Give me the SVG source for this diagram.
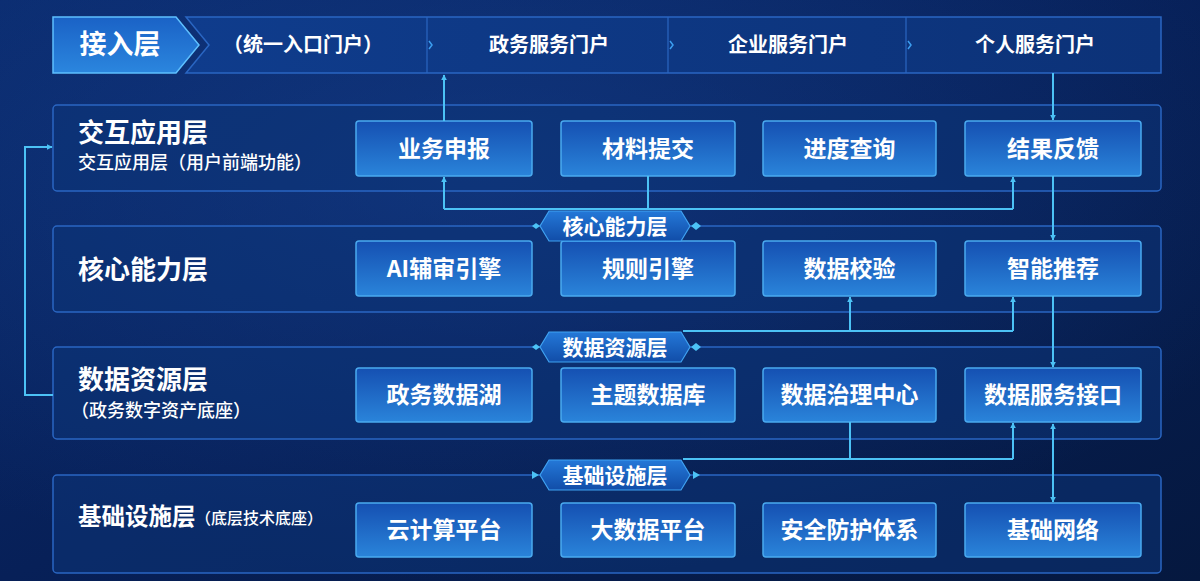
<svg xmlns="http://www.w3.org/2000/svg" width="1200" height="581" viewBox="0 0 1200 581">
  <defs>
    <linearGradient id="bg" x1="0" y1="0" x2="1" y2="1">
      <stop offset="0" stop-color="#0a2a6c"/>
      <stop offset="0.5" stop-color="#072058"/>
      <stop offset="1" stop-color="#05183f"/>
    </linearGradient>
    <radialGradient id="glow" cx="0.4" cy="0.3" r="0.7">
      <stop offset="0" stop-color="#1a4aa0" stop-opacity="0.45"/>
      <stop offset="1" stop-color="#1a4aa0" stop-opacity="0"/>
    </radialGradient>
    <linearGradient id="boxg" x1="0" y1="0" x2="0" y2="1">
      <stop offset="0" stop-color="#1550b2"/>
      <stop offset="1" stop-color="#2a84da"/>
    </linearGradient>
    <linearGradient id="badgeg" x1="0" y1="0" x2="0" y2="1">
      <stop offset="0" stop-color="#1a62c6"/>
      <stop offset="1" stop-color="#2b86de"/>
    </linearGradient>
    <linearGradient id="tagg" x1="0" y1="0" x2="0" y2="1">
      <stop offset="0" stop-color="#2478d8"/>
      <stop offset="1" stop-color="#114da8"/>
    </linearGradient>
    <linearGradient id="barg" x1="0" y1="0" x2="1" y2="0">
      <stop offset="0" stop-color="#0f3c8c"/>
      <stop offset="1" stop-color="#0c3278"/>
    </linearGradient>
    <marker id="ah" viewBox="0 0 10 10" refX="9" refY="5" markerWidth="6" markerHeight="6" orient="auto-start-reverse" markerUnits="userSpaceOnUse">
      <path d="M0,0 L10,5 L0,10 Z" fill="#4cc2f5"/>
    </marker>
  </defs>
  <style>
    .cjk{font-family:"Noto Sans CJK SC","Noto Sans",sans-serif;fill:#ffffff;}
    .panel{fill:#0d3478;fill-opacity:0.55;stroke:#2a66c2;stroke-width:1.5;}
    .box{fill:url(#boxg);stroke:#4aaaf0;stroke-width:1.5;}
    .boxt{font-size:23px;font-weight:700;text-anchor:middle;}
    .title{font-size:26px;font-weight:700;}
    .sub{font-size:18px;font-weight:500;}
    .portal{font-size:20px;font-weight:600;text-anchor:middle;}
    .tag{fill:url(#tagg);stroke:#3fa2f2;stroke-width:1.2;}
    .tagt{font-size:21px;font-weight:700;text-anchor:middle;}
    .conn{fill:none;stroke:#4cc2f5;stroke-width:2;}
    .dia{fill:#4cc2f5;}
    .chev{fill:none;stroke:#3c9ef0;stroke-width:1.5;}
  </style>
  <rect x="0" y="0" width="1200" height="581" fill="url(#bg)"/>
  <rect x="0" y="0" width="1200" height="581" fill="url(#glow)"/>

  <!-- Access layer -->
  <g id="access-layer">
    <path d="M186,17 L1161,17 L1161,73 L186,73 L209,45 Z" fill="url(#barg)" stroke="#2a66c2" stroke-width="1.5"/>
    <path d="M53,17 L176,17 L199,45 L176,73 L53,73 Z" fill="url(#badgeg)" stroke="#5ec0ff" stroke-width="1.5"/>
    <text class="cjk" x="120" y="54" font-size="27" font-weight="700" text-anchor="middle">接入层</text>
    <line x1="427" y1="17" x2="427" y2="73" stroke="#2a66c2" stroke-width="1.2"/>
    <line x1="668" y1="17" x2="668" y2="73" stroke="#2a66c2" stroke-width="1.2"/>
    <line x1="906" y1="17" x2="906" y2="73" stroke="#2a66c2" stroke-width="1.2"/>
    <path class="chev" d="M429,41 L432,45 L429,49"/>
    <path class="chev" d="M670,41 L673,45 L670,49"/>
    <path class="chev" d="M908,41 L911,45 L908,49"/>
    <text class="cjk portal" x="303" y="52">（统一入口门户）</text>
    <text class="cjk portal" x="549" y="52">政务服务门户</text>
    <text class="cjk portal" x="788" y="52">企业服务门户</text>
    <text class="cjk portal" x="1035" y="52">个人服务门户</text>
  </g>

  <!-- Interaction layer -->
  <g id="interaction-layer">
    <rect class="panel" x="53" y="105" width="1108" height="86" rx="4"/>
    <text class="cjk title" x="78" y="142">交互应用层</text>
    <text class="cjk sub" x="78" y="169">交互应用层（用户前端功能）</text>
  </g>
  <g id="n-yewu"><rect class="box" x="356" y="121" width="176" height="55" rx="3"/><text class="cjk boxt" x="444" y="157">业务申报</text></g>
  <g id="n-cailiao"><rect class="box" x="561" y="121" width="174" height="55" rx="3"/><text class="cjk boxt" x="648" y="157">材料提交</text></g>
  <g id="n-jindu"><rect class="box" x="763" y="121" width="173" height="55" rx="3"/><text class="cjk boxt" x="849.5" y="157">进度查询</text></g>
  <g id="n-jieguo"><rect class="box" x="965" y="121" width="176" height="55" rx="3"/><text class="cjk boxt" x="1053" y="157">结果反馈</text></g>

  <!-- Core layer -->
  <g id="core-layer">
    <rect class="panel" x="53" y="226" width="1108" height="86" rx="4"/>
    <text class="cjk title" x="78" y="279">核心能力层</text>
  </g>
  <g id="n-ai"><rect class="box" x="356" y="241" width="176" height="55" rx="3"/><text class="cjk boxt" x="444" y="277">AI辅审引擎</text></g>
  <g id="n-guize"><rect class="box" x="561" y="241" width="174" height="55" rx="3"/><text class="cjk boxt" x="648" y="277">规则引擎</text></g>
  <g id="n-jiaoyan"><rect class="box" x="763" y="241" width="173" height="55" rx="3"/><text class="cjk boxt" x="849.5" y="277">数据校验</text></g>
  <g id="n-tuijian"><rect class="box" x="965" y="241" width="176" height="55" rx="3"/><text class="cjk boxt" x="1053" y="277">智能推荐</text></g>

  <!-- Data layer -->
  <g id="data-layer">
    <rect class="panel" x="53" y="347" width="1108" height="92" rx="4"/>
    <text class="cjk title" x="78" y="389">数据资源层</text>
    <text class="cjk sub" x="71" y="417">（政务数字资产底座）</text>
  </g>
  <g id="n-hu"><rect class="box" x="356" y="368" width="176" height="54" rx="3"/><text class="cjk boxt" x="444" y="403">政务数据湖</text></g>
  <g id="n-zhuti"><rect class="box" x="561" y="368" width="174" height="54" rx="3"/><text class="cjk boxt" x="648" y="403">主题数据库</text></g>
  <g id="n-zhili"><rect class="box" x="763" y="368" width="173" height="54" rx="3"/><text class="cjk boxt" x="849.5" y="403">数据治理中心</text></g>
  <g id="n-jiekou"><rect class="box" x="965" y="368" width="176" height="54" rx="3"/><text class="cjk boxt" x="1053" y="403">数据服务接口</text></g>

  <!-- Infrastructure layer -->
  <g id="infra-layer">
    <rect class="panel" x="53" y="475" width="1108" height="98" rx="4"/>
    <text class="cjk" x="78" y="525" font-size="23.5" font-weight="700">基础设施层</text>
    <text class="cjk" x="195" y="524" font-size="16" font-weight="500">（底层技术底座）</text>
  </g>
  <g id="n-yun"><rect class="box" x="356" y="503" width="176" height="54" rx="3"/><text class="cjk boxt" x="444" y="538">云计算平台</text></g>
  <g id="n-dashuju"><rect class="box" x="561" y="503" width="174" height="54" rx="3"/><text class="cjk boxt" x="648" y="538">大数据平台</text></g>
  <g id="n-anquan"><rect class="box" x="763" y="503" width="173" height="54" rx="3"/><text class="cjk boxt" x="849.5" y="538">安全防护体系</text></g>
  <g id="n-wangluo"><rect class="box" x="965" y="503" width="176" height="54" rx="3"/><text class="cjk boxt" x="1053" y="538">基础网络</text></g>

  <!-- Connectors -->
  <g id="connectors">
    <path class="conn" d="M444,121 L444,75" marker-end="url(#ah)"/>
    <path class="conn" d="M1053,73 L1053,120" marker-end="url(#ah)"/>
    <path class="conn" d="M648,176 L648,209"/>
    <path class="conn" d="M444,209 L1013,209"/>
    <path class="conn" d="M444,209 L444,177" marker-end="url(#ah)"/>
    <path class="conn" d="M1013,209 L1013,177" marker-end="url(#ah)"/>
    <path class="conn" d="M1053,176 L1053,240" marker-end="url(#ah)"/>
    <path class="conn" d="M683,331 L1013,331"/>
    <path class="conn" d="M850,331 L850,297" marker-end="url(#ah)"/>
    <path class="conn" d="M1013,331 L1013,297" marker-end="url(#ah)"/>
    <path class="conn" d="M1053,296 L1053,367" marker-end="url(#ah)"/>
    <path class="conn" d="M850,422 L850,459"/>
    <path class="conn" d="M683,459 L1013,459"/>
    <path class="conn" d="M1013,459 L1013,423" marker-end="url(#ah)"/>
    <path class="conn" d="M1053,424 L1053,502" marker-start="url(#ah)" marker-end="url(#ah)"/>
    <path class="conn" d="M53,395 L25,395 L25,147 L52,147" marker-end="url(#ah)"/>
  </g>

  <!-- Layer tags -->
  <g id="tag-core">
    <path class="tag" d="M540,226 L549,211 L681,211 L690,226 L681,241 L549,241 Z"/>
    <path class="dia" d="M532,226 L536,223 L540,226 L536,229 Z"/>
    <path class="dia" d="M691,226 L696,222 L701,226 L696,230 Z"/>
    <text class="cjk tagt" x="615" y="234">核心能力层</text>
  </g>
  <g id="tag-data">
    <path class="tag" d="M540,347 L549,332 L681,332 L690,347 L681,362 L549,362 Z"/>
    <path class="dia" d="M532,347 L536,344 L540,347 L536,350 Z"/>
    <path class="dia" d="M691,347 L696,343 L701,347 L696,351 Z"/>
    <text class="cjk tagt" x="615" y="355">数据资源层</text>
  </g>
  <g id="tag-infra">
    <path class="tag" d="M540,475 L549,460 L681,460 L690,475 L681,490 L549,490 Z"/>
    <path class="dia" d="M532,471 L539,475 L532,479 Z"/>
    <path class="dia" d="M693,471 L700,475 L693,479 Z"/>
    <text class="cjk tagt" x="615" y="483">基础设施层</text>
  </g>
</svg>
